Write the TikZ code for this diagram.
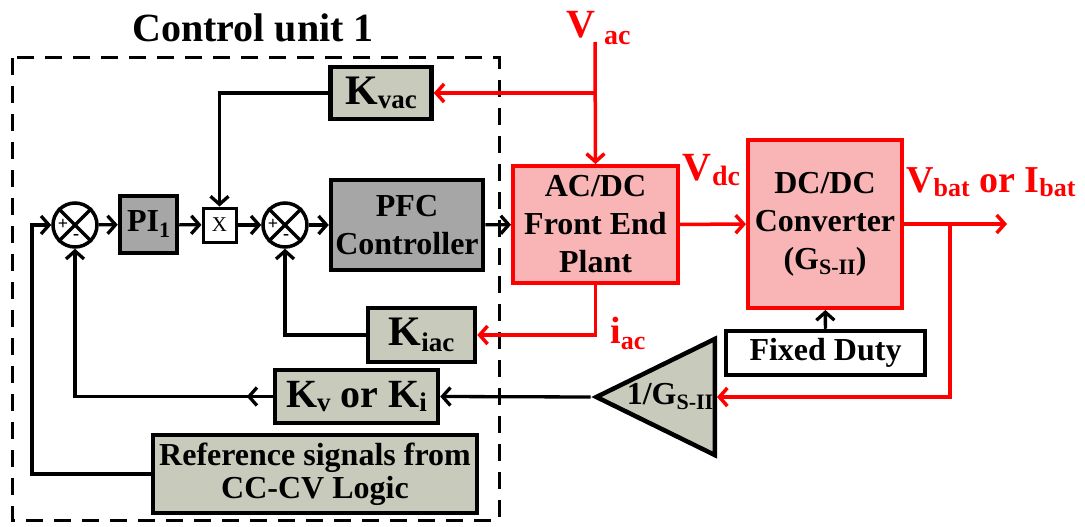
\documentclass[tikz,border=0pt]{standalone}
\usepackage{fontspec}
\setmainfont{Liberation Serif}
\usepackage{tikz}
\usetikzlibrary{positioning,arrows.meta,shapes.geometric}
\definecolor{sage}{HTML}{C8CBBB}
\definecolor{slate}{HTML}{A6A6A6}
\definecolor{blush}{HTML}{F9B5B5}
\definecolor{sig}{HTML}{FF0000}
\newcommand{\subtxt}[3]{\raisebox{-#1pt}{\fontsize{#2}{#2}\selectfont #3}}
\tikzset{
  blk/.style={draw=black, line width=4.5pt, fill=sage, inner sep=0pt, align=center, font=\fontsize{32}{38}\selectfont\bfseries},
  gblk/.style={blk, fill=slate},
  plant/.style={blk, draw=sig, line width=4pt, fill=blush},
  kblk/.style={blk, font=\fontsize{42}{42}\selectfont\bfseries},
  sumj/.style={circle, draw=black, line width=3.5pt, minimum size=44pt, inner sep=0pt, fill=white},
  pm/.style={font=\fontsize{18}{18}\selectfont\bfseries, inner sep=0pt},
  wire/.style={line width=3.3pt, black},
  arr/.style={wire, -{Straight Barb[length=8pt,width=18pt]}},
  rwire/.style={line width=3.5pt, sig},
  rarr/.style={rwire, -{Straight Barb[length=8pt,width=18pt]}},
  siglab/.style={text=sig, inner sep=0pt, font=\fontsize{40}{40}\selectfont\bfseries},
}
\begin{document}
\begin{tikzpicture}[x=1pt,y=-1pt]
\useasboundingbox (0,0) rectangle (1085,527);
% control unit 1
\draw[line width=3pt, dash pattern=on 17pt off 11pt] (12,58) rectangle (499,520);
\node[font=\fontsize{40}{40}\selectfont\bfseries] (cu) at (253,28) {Control unit 1};

\node[kblk, minimum width=101pt, minimum height=52pt] (kvac) at (381,93) {K\subtxt{4}{27}{vac}};
\node[sumj] (s1) at (75,225) {};
\node[gblk, minimum width=57pt, minimum height=57pt, font=\fontsize{32}{32}\selectfont\bfseries] (pi) at (148.5,224.5) {PI\subtxt{6}{22}{1}};
\node[draw, line width=3pt, fill=white, minimum width=33pt, minimum height=34pt, inner sep=0pt, font=\fontsize{21}{21}\selectfont] (mult) at (219.5,225) {X};
\node[sumj] (s2) at (285,225) {};
\node[gblk, minimum width=152pt, minimum height=90pt] (pfc) at (407,225) {PFC\\Controller};
\node[plant, minimum width=165pt, minimum height=117pt] (acdc) at (595.5,224.5) {AC/DC\\Front End\\Plant};
\node[plant, minimum width=154pt, minimum height=168pt] (dcdc) at (825,224) {DC/DC\\Converter\\(G\subtxt{5}{22}{S-II})};
\node[blk, fill=white, minimum width=199pt, minimum height=44pt] (duty) at (825.5,353) {Fixed Duty};
\node[blk, isosceles triangle, shape border rotate=180, isosceles triangle stretches, minimum width=116pt, minimum height=117pt, anchor=lower side] (inv) at (717,397) {1/G\subtxt{5}{22}{S-II}};
\node[kblk, minimum width=107pt, minimum height=54pt] (kiac) at (421.5,335) {K\subtxt{6}{27}{iac}};
\node[kblk, minimum width=163pt, minimum height=53pt, font=\fontsize{40}{40}\selectfont\bfseries] (kv) at (356.5,396.5) {K\subtxt{4}{27}{v} or K\subtxt{4}{27}{i}};
\node[blk, minimum width=324pt, minimum height=78pt, font=\fontsize{32}{33}\selectfont\bfseries] (ref) at (315,474) {Reference signals from\\CC-CV Logic};

\foreach \s in {s1,s2}{
  \draw[wire] (\s.north west) -- (\s.south east) (\s.north east) -- (\s.south west);
  \node[pm] at ([xshift=-12pt,yshift=1pt]\s.center) {+};
  \node[pm] at ([xshift=1pt,yshift=-12pt]\s.center) {-};
}

\coordinate (vin) at (595,42);
\coordinate (vout) at (1007,224);
\coordinate (fbk) at (950,397);
\coordinate (refL) at (32,474);

\draw[rarr] (vin) -- (acdc.north);
\draw[rarr] (vin |- kvac.east) -- (kvac.east);
\draw[arr] (kvac.west) -| (mult.north);
\draw[arr] (s1) -- (pi);
\draw[arr] (pi) -- (mult);
\draw[arr] (mult) -- (s2);
\draw[arr] (s2) -- (pfc);
\draw[arr] (pfc) -- (acdc);
\draw[rarr] (acdc) -- (dcdc);
\draw[rarr] (dcdc.east) -- (vout);
\draw[rarr] (fbk |- dcdc.east) -- (fbk) -- (inv.lower side);
\draw[arr] (duty) -- (dcdc);
\draw[rarr] (acdc.south) |- (kiac.east);
\draw[arr] (kiac.west) -| (s2.south);
\draw[arr] (inv.apex) -- (kv.east);
\draw[arr] (kv.west) -| (s1.south);
\draw[arr] (kv.west) -- ++(-26,0);
\draw[arr] (ref.west) -- (refL) |- (s1.west);

% signal names
\node[siglab, anchor=base west] (vac) at (566,38) {V\kern9pt\subtxt{7}{28}{ac}};
\node[siglab, anchor=base west] (vdc) at (682,180) {V\kern1pt\subtxt{5}{28}{dc}};
\node[siglab, font=\fontsize{38}{38}\selectfont\bfseries, anchor=base west] (vbat) at (906,192) {V\subtxt{4}{26}{bat} or I\subtxt{4}{26}{bat}};
\node[siglab, font=\fontsize{38}{38}\selectfont\bfseries, anchor=base west] (iac) at (610,343) {i\subtxt{6}{26}{ac}};
\end{tikzpicture}
\end{document}
